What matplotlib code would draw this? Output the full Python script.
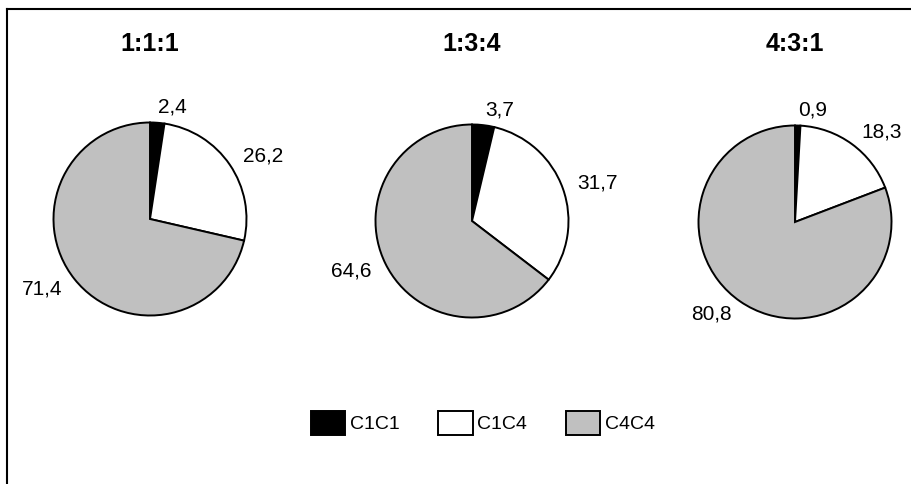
import matplotlib
matplotlib.use("Agg")
import matplotlib.pyplot as plt
from matplotlib.patches import Patch
from matplotlib.lines import Line2D

plt.rcParams["font.family"] = ["Liberation Sans", "DejaVu Sans"]

titles = ["1:1:1", "1:3:4", "4:3:1"]
categories = ["C1C1", "C1C4", "C4C4"]
c1c1 = [2.4, 3.7, 0.9]
c1c4 = [26.2, 31.7, 18.3]
c4c4 = [71.4, 64.6, 80.8]
colors = ["black", "white", "#c0c0c0"]

W, H = 912, 484
fig = plt.figure(figsize=(W / 100, H / 100), dpi=100)

# pie centres in pixels
centers = [(150, 219), (472, 221), (795, 222)]
r = 96.5

for i, title in enumerate(titles):
    cx, cy = centers[i]
    ax = fig.add_axes([(cx - r) / W, 1 - (cy + r) / H, 2 * r / W, 2 * r / H])
    vals = [c1c1[i], c1c4[i], c4c4[i]]
    labels = [("%.1f" % v).replace(".", ",") for v in vals]
    ax.pie(vals, labels=labels, colors=colors, startangle=90, counterclock=False,
           labeldistance=1.16, textprops={"fontsize": 15},
           wedgeprops={"edgecolor": "black", "linewidth": 1.4})
    ax.set_xlim(-1, 1)
    ax.set_ylim(-1, 1)
    ax.set_aspect("equal")
    fig.text(cx / W, 1 - 44 / H, title, ha="center", va="center",
             fontsize=18, fontweight="bold")

handles = [Patch(facecolor=c, edgecolor="black", linewidth=1.4) for c in colors]
fig.legend(handles, categories, loc="center", bbox_to_anchor=(483 / W, 1 - 423 / H),
           ncol=3, frameon=False, fontsize=14, handlelength=1.75, handleheight=1.45,
           handletextpad=0.25, columnspacing=2.0)

# border of the original frame (top and left visible)
fig.add_artist(Line2D([7 / W, 1], [1 - 9 / H, 1 - 9 / H], color="black", linewidth=1.5))
fig.add_artist(Line2D([7 / W, 7 / W], [0, 1 - 9 / H], color="black", linewidth=1.5))

fig.savefig("out.png", dpi=100)
